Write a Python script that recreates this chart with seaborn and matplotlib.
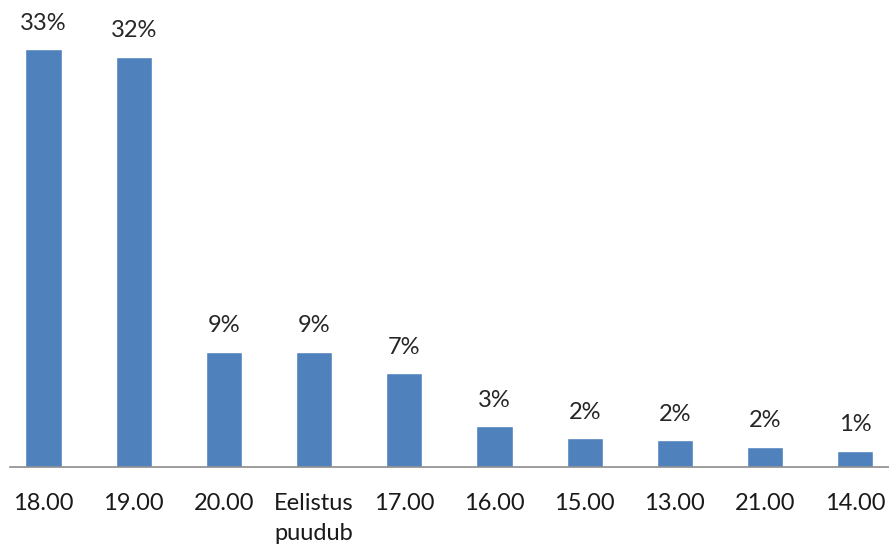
import matplotlib
matplotlib.use("Agg")
import matplotlib.pyplot as plt
import seaborn as sns
import pandas as pd

categories = ["18.00", "19.00", "20.00", "Eelistus\npuudub", "17.00",
              "16.00", "15.00", "13.00", "21.00", "14.00"]
shares = [33.0, 32.4, 9.1, 9.1, 7.4, 3.2, 2.3, 2.1, 1.6, 1.3]

df = pd.DataFrame({"aeg": categories, "osakaal": shares})

sns.set_theme(style="white")
plt.rcParams["font.family"] = ["Lato", "DejaVu Sans"]

fig = plt.figure(figsize=(8.89, 5.44), dpi=100)
ax = fig.add_axes([10 / 889, 77 / 544, 879 / 889, 467 / 544])

sns.barplot(data=df, x="aeg", y="osakaal", color="#4F81BD", saturation=1,
            width=0.40, ax=ax, order=categories)

for patch, val in zip(ax.patches, shares):
    ax.annotate(f"{val:.0f}%", (patch.get_x() + patch.get_width() / 2, val),
                xytext=(0, 11), textcoords="offset points",
                ha="center", va="bottom", fontsize=17, color="#262626")

ax.set_xlim(-0.371, 9.374)
ax.set_ylim(0, 36.86)
ax.set_xlabel("")
ax.set_ylabel("")
ax.set_yticks([])
for side in ["top", "right", "left"]:
    ax.spines[side].set_visible(False)
ax.spines["bottom"].set_color("#8c8c8c")
ax.spines["bottom"].set_linewidth(1.2)
ax.tick_params(axis="x", length=0, pad=19, labelsize=17, labelcolor="#1a1a1a")
for lbl in ax.get_xticklabels():
    lbl.set_verticalalignment("top")
    lbl.set_linespacing(1.5)

fig.savefig("out.png", dpi=100)
